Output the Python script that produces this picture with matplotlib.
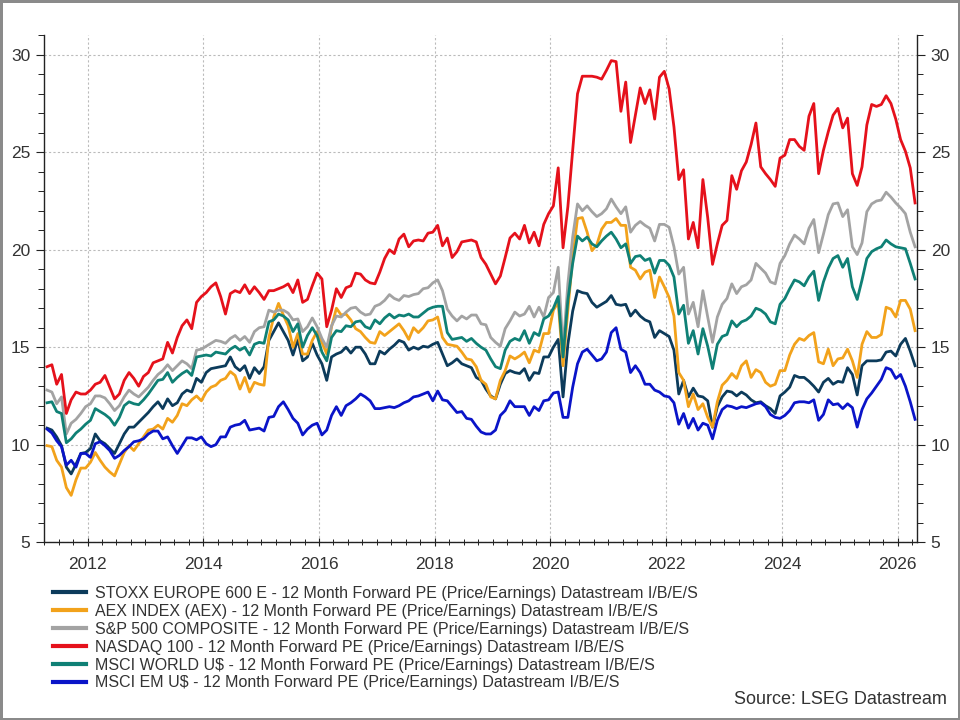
import numpy as np
import matplotlib
matplotlib.use("Agg")
import matplotlib.pyplot as plt
from matplotlib.ticker import MultipleLocator, FixedLocator

plt.rcParams['font.family'] = ['Liberation Sans Narrow', 'Liberation Sans', 'DejaVu Sans']

# monthly observations, Apr 2011 .. Apr 2026
start_year = 2011.30
n_points = 181

stoxx600 = [
    10.85, 10.75, 10.4, 9.95, 8.85, 8.5, 9.0, 9.55, 9.6, 9.8, 10.55, 10.2, 10.05, 9.8, 9.55, 10.05, 10.55, 10.9, 10.9, 11.15,
    11.4, 11.65, 11.95, 12.2, 11.85, 12.35, 12.0, 12.15, 12.6, 12.8, 12.7, 13.4, 13.2, 13.7, 13.9, 13.95, 14.0,
    14.05, 14.5, 14.0, 13.8, 14.05, 13.4, 13.95, 13.65, 14.0, 15.35, 15.8, 16.25, 15.8, 15.35, 14.6, 15.4, 14.3, 14.5,
    15.2, 14.6, 14.15, 13.3, 14.5, 14.65, 14.75, 15.0, 14.7, 15.0, 15.0, 14.65, 14.15, 14.15, 14.8, 14.65, 14.9, 15.1,
    15.35, 15.25, 14.85, 15.0, 14.9, 15.05, 15.0, 15.15, 15.25, 14.65, 14.05, 14.2, 14.4, 14.15, 14.05, 13.95, 13.45,
    13.3, 12.85, 12.5, 12.35, 13.1, 13.65, 13.8, 13.7, 13.65, 13.9, 13.3, 13.7, 13.65, 14.5, 14.5, 15.0, 15.4,
    12.45, 15.15, 16.85, 17.9, 17.8, 17.75, 17.3, 17.05, 17.2, 17.35, 17.65, 17.2, 17.15, 17.2, 16.6, 16.9, 16.6, 16.4,
    16.3, 15.5, 15.85, 15.7, 15.55, 14.85, 12.6, 13.3, 12.45, 12.9, 12.5, 12.45, 12.25, 10.9, 11.95, 12.45, 12.75, 12.7,
    12.5, 12.7, 12.55,
    12.3, 12.15, 12.2, 12.0, 11.85, 11.6, 12.5, 12.7, 12.95, 13.55, 13.45, 13.45, 13.25, 13.0, 12.7, 13.2, 13.4, 13.1,
    13.25, 13.2, 13.95, 13.6, 12.55, 14.05, 14.3, 14.3, 14.3, 14.35, 14.75, 14.8, 14.55, 15.15, 15.45, 14.8, 14.05,
]

aex = [
    9.95, 9.9, 9.2, 8.85, 7.8, 7.4, 8.2, 8.8, 8.8, 9.1, 9.6, 9.2, 8.85, 8.6, 8.4, 9.0, 9.6, 9.95, 9.7, 10.05,
    10.4, 10.75, 10.8, 11.0, 10.8, 11.35, 11.15, 11.5, 12.1, 12.0, 12.3, 12.5, 12.25, 12.7, 12.95, 13.05, 13.3,
    13.4, 13.75, 13.55, 12.85, 13.45, 12.7, 13.2, 13.1, 13.05, 15.5, 16.55, 17.25, 16.65, 16.1, 15.0, 15.7, 14.65, 14.65,
    15.35, 15.8, 15.25, 14.65, 16.05, 17.0, 16.65, 16.7, 16.4, 15.95, 15.8, 15.5, 15.25, 15.2, 15.8, 15.6, 15.8, 16.0,
    16.2, 15.85, 15.4, 16.0, 15.75, 16.0, 16.35, 16.4, 16.55, 15.5, 15.15, 15.1, 15.05, 14.75, 14.4, 14.35, 14.0,
    13.3, 13.1, 12.45, 12.35, 13.3, 13.8, 14.55, 14.4, 14.55, 14.75, 14.2, 14.85, 14.75, 15.7, 15.7, 16.9, 17.3,
    14.05, 16.9, 19.6, 21.6, 21.65, 20.9, 19.95, 20.25, 21.05, 21.4, 21.4, 21.6, 21.25, 21.25, 19.1, 18.95, 18.5, 18.85,
    18.95, 17.55, 18.6, 18.1, 17.55, 16.6, 13.7, 13.3, 11.95, 12.6, 11.8, 12.1, 11.4, 10.9, 12.2, 13.05, 13.3, 13.65,
    13.4, 14.05, 14.3,
    13.45, 13.85, 13.7, 13.2, 13.0, 13.1, 13.8, 13.8, 14.6, 15.15, 15.45, 15.35, 15.6, 15.75, 14.25, 14.15, 14.9, 14.05,
    14.4, 14.45, 14.9, 14.3, 13.45, 15.15, 15.8, 15.5, 15.5, 15.65, 17.05, 16.95, 16.55, 17.4, 17.4, 16.95, 15.85,
]

sp500 = [
    12.8, 12.7, 12.1, 12.45, 10.55, 11.1, 11.3, 11.6, 11.95, 12.1, 12.5, 12.5, 12.4, 12.1, 11.75, 12.0, 12.45, 12.8, 12.6, 12.45,
    12.7, 12.95, 13.3, 13.6, 13.8, 14.1, 13.8, 14.05, 14.3, 14.15, 13.9, 14.85, 14.9, 15.05, 15.2, 15.35, 15.3,
    15.2, 15.45, 15.6, 15.35, 15.55, 15.25, 15.8, 16.0, 16.05, 16.9, 16.8, 16.9, 16.9, 16.75, 16.4, 16.45, 15.8, 16.05,
    16.5, 16.05, 15.45, 15.0, 16.1, 16.6, 16.55, 16.8, 17.0, 17.05, 16.8, 16.65, 16.7, 17.1, 17.2, 17.4, 17.7, 17.5,
    17.4, 17.65, 17.6, 17.7, 17.75, 18.0, 18.05, 18.3, 18.45, 17.9, 16.95, 16.6, 16.35, 16.6, 16.45, 16.65, 16.65,
    16.2, 16.15, 15.5, 15.25, 15.05, 15.95, 16.35, 16.8, 16.6, 16.7, 17.1, 16.55, 17.05, 16.55, 17.55, 17.8, 19.1,
    14.9, 18.25, 20.65, 22.35, 22.0, 22.25, 21.95, 21.7, 21.85, 22.1, 22.6, 22.2, 21.85, 22.2, 20.9, 21.25, 21.45, 21.25,
    21.1, 20.45, 21.3, 21.3, 21.15, 20.15, 18.75, 19.1, 16.7, 17.3, 16.05, 17.9, 16.55, 15.25, 16.55, 17.2, 17.5, 18.25,
    17.75, 18.1, 18.2,
    18.45, 19.3, 19.05, 18.8, 18.35, 18.25, 19.3, 19.7, 20.3, 20.75, 20.55, 20.3, 21.1, 21.55, 19.85, 20.8, 21.8, 22.35,
    22.4, 21.7, 22.05, 20.15, 19.75, 20.35, 21.95, 22.35, 22.5, 22.55, 22.95, 22.7, 22.4, 22.15, 21.85, 20.9, 20.15,
]

nasdaq100 = [
    14.0, 14.1, 13.1, 13.6, 11.6, 12.3, 12.7, 12.6, 12.6, 12.8, 13.1, 13.2, 13.55, 12.95, 12.35, 12.6, 13.3, 13.7, 13.4, 13.0,
    13.5, 13.7, 14.2, 14.3, 14.4, 15.25, 14.7, 15.5, 16.1, 16.4, 15.95, 17.3, 17.6, 17.8, 18.1, 18.3, 17.6,
    16.7, 17.75, 17.9, 17.8, 18.2, 17.75, 18.1, 17.8, 17.45, 17.9, 17.9, 18.0, 18.1, 18.25, 17.8, 18.45, 17.3, 17.45,
    18.15, 18.8, 18.5, 16.05, 16.9, 18.0, 17.55, 18.05, 18.15, 18.8, 18.75, 18.45, 18.3, 18.25, 18.85, 19.55, 20.0, 19.8,
    20.55, 20.8, 20.15, 20.45, 20.5, 20.45, 20.85, 20.9, 21.25, 20.2, 20.6, 19.6, 19.9, 20.4, 20.45, 20.5, 20.4,
    19.6, 19.25, 18.75, 18.25, 18.65, 19.6, 20.6, 20.85, 20.55, 21.25, 20.35, 20.9, 20.2, 21.3, 21.85, 22.25, 24.2,
    20.1, 22.2, 25.1, 28.0, 28.9, 28.9, 28.9, 28.85, 28.75, 29.2, 29.7, 29.65, 27.1, 28.6, 25.5, 26.9, 28.3, 27.5,
    28.2, 26.7, 28.85, 29.15, 28.25, 26.3, 23.6, 24.1, 20.55, 21.4, 20.1, 23.6, 21.65, 19.25, 20.3, 21.25, 21.5, 23.8,
    23.1, 24.05, 24.5,
    25.4, 26.5, 24.25, 23.9, 23.6, 23.25, 24.7, 24.85, 25.65, 25.65, 25.3, 25.1, 26.85, 27.5, 23.9, 25.1, 26.05, 26.9,
    27.25, 26.25, 26.75, 23.9, 23.3, 24.25, 26.4, 27.45, 27.35, 27.45, 27.9, 27.5, 26.7, 25.65, 25.05, 24.2, 22.4,
]

msci_world = [
    12.15, 12.2, 11.7, 11.6, 10.1, 10.3, 10.6, 10.8, 11.05, 11.25, 11.85, 11.7, 11.55, 11.35, 11.0, 11.4, 12.0, 12.2, 12.1, 12.05,
    12.3, 12.6, 12.95, 13.3, 13.35, 13.7, 13.2, 13.45, 13.65, 13.8, 13.55, 14.5, 14.55, 14.6, 14.55, 14.75, 14.7,
    14.65, 14.9, 15.05, 14.85, 15.0, 14.6, 15.15, 15.25, 15.2, 16.3, 16.4, 16.7, 16.6, 16.4, 15.8, 16.2, 15.0, 15.6,
    16.0, 15.6, 14.75, 14.3, 15.5, 15.85, 15.8, 16.1, 16.05, 16.3, 16.35, 16.05, 15.95, 16.4, 16.2, 16.5, 16.7, 16.5,
    16.65, 16.6, 16.7, 16.55, 16.55, 16.75, 16.95, 17.05, 17.1, 17.1, 15.75, 15.4, 15.45, 15.5, 15.3, 15.45, 15.2,
    15.0, 14.85, 14.4, 14.0, 13.9, 14.85, 15.3, 15.45, 15.35, 15.85, 15.2, 15.75, 15.6, 16.45, 16.6, 17.0, 17.6,
    14.5, 17.4, 19.3, 20.7, 20.45, 20.65, 20.3, 20.15, 20.45, 20.7, 20.9, 20.55, 20.1, 20.3, 19.3, 19.65, 19.7, 19.45,
    19.55, 18.8, 19.45, 19.45, 19.2, 18.6, 16.7, 17.15, 15.2, 15.85, 14.65, 15.95, 15.05, 13.9, 15.15, 15.55, 15.65, 16.35,
    16.05, 16.3, 16.4,
    16.6, 17.0, 16.9, 16.7, 16.3, 16.2, 17.2, 17.5, 18.0, 18.45, 18.35, 18.15, 18.6, 18.9, 17.4, 18.35, 19.05, 19.55,
    19.7, 19.1, 19.55, 18.1, 17.45, 18.45, 19.55, 19.9, 20.05, 20.15, 20.5, 20.3, 20.15, 20.1, 20.05, 19.3, 18.5,
]

msci_em = [
    10.8, 10.6, 10.2, 9.9, 8.95, 9.2, 8.85, 9.55, 9.55, 9.35, 10.05, 10.15, 9.95, 9.7, 9.3, 9.45, 9.7, 9.9, 10.15, 10.2,
    10.3, 10.55, 10.7, 10.7, 10.3, 10.4, 9.95, 9.55, 9.95, 10.35, 10.35, 10.25, 10.4, 10.05, 9.9, 10.0, 10.4,
    10.4, 10.9, 11.0, 11.05, 11.25, 10.75, 10.8, 10.85, 10.7, 11.4, 11.45, 11.95, 12.2, 11.8, 11.35, 11.1, 10.5, 10.8,
    11.0, 11.1, 10.5, 10.75, 11.5, 11.95, 11.5, 12.0, 12.15, 12.35, 12.6, 12.45, 12.25, 11.85, 11.85, 11.9, 11.95, 11.9,
    12.0, 12.15, 12.25, 12.45, 12.5, 12.6, 12.7, 12.25, 12.75, 12.3, 12.25, 11.95, 11.65, 11.7, 11.35, 11.3, 10.95,
    10.65, 10.55, 10.55, 10.75, 11.5, 11.75, 12.25, 11.95, 11.95, 11.95, 11.5, 11.95, 11.75, 12.25, 12.3, 12.65, 12.7,
    11.4, 11.4, 12.95, 14.15, 14.75, 14.9, 14.6, 14.3, 14.4, 14.75, 15.75, 16.0, 14.9, 14.75, 13.7, 14.05, 13.7, 13.1,
    13.1, 12.8, 12.7, 12.5, 12.45, 12.15, 11.05, 11.6, 10.85, 11.35, 10.75, 11.1, 11.0, 10.3, 11.25, 11.8, 12.0, 11.95,
    11.85, 11.95, 11.9,
    12.0, 12.1, 12.15, 11.95, 11.55, 11.4, 11.35, 11.5, 11.75, 12.15, 12.2, 12.2, 12.15, 12.3, 11.25, 11.55, 12.3, 12.05,
    12.1, 11.85, 12.1, 11.9, 10.9, 11.8, 12.35, 12.65, 13.0, 13.35, 13.95, 13.85, 13.4, 13.6, 13.0, 12.2, 11.3,
]

series_labels = [
    "STOXX EUROPE 600 E - 12 Month Forward PE (Price/Earnings) Datastream I/B/E/S",
    "AEX INDEX (AEX) - 12 Month Forward PE (Price/Earnings) Datastream I/B/E/S",
    "S&P 500 COMPOSITE - 12 Month Forward PE (Price/Earnings) Datastream I/B/E/S",
    "NASDAQ 100 - 12 Month Forward PE (Price/Earnings) Datastream I/B/E/S",
    "MSCI WORLD U$ - 12 Month Forward PE (Price/Earnings) Datastream I/B/E/S",
    "MSCI EM U$ - 12 Month Forward PE (Price/Earnings) Datastream I/B/E/S",
]
series_colors = ["#0c3b5b", "#f2a21b", "#a3a3a3", "#e5111b", "#0f8075", "#0a14c8"]
series_data = [stoxx600, aex, sp500, nasdaq100, msci_world, msci_em]

year_ticks = [2012, 2014, 2016, 2018, 2020, 2022, 2024, 2026]
y_ticks = [5, 10, 15, 20, 25, 30]

t = start_year + np.arange(n_points) / 12.0

fig = plt.figure(figsize=(9.6, 7.2), dpi=100)
fig.patch.set_facecolor("white")
fig.patch.set_edgecolor("#8a8a8a")
fig.patch.set_linewidth(2.5)

ax = fig.add_axes([0.046, 0.247, 0.909, 0.704])
lines = []
for vals, col, lab in zip(series_data, series_colors, series_labels):
    v = np.asarray(vals, dtype=float)
    ln, = ax.plot(t[:len(v)], v, color=col, lw=2.0, label=lab, solid_joinstyle="round")
    lines.append(ln)

ax.set_xlim(2011.25, 2026.33)
ax.set_ylim(5, 31)
ax.spines["top"].set_visible(False)
for s in ["left", "right", "bottom"]:
    ax.spines[s].set_color("#222222")
    ax.spines[s].set_linewidth(1.0)

ax.xaxis.set_major_locator(FixedLocator(year_ticks))
ax.xaxis.set_minor_locator(MultipleLocator(0.25))
ax.yaxis.set_major_locator(FixedLocator(y_ticks))
ax.yaxis.set_minor_locator(MultipleLocator(1))
ax.tick_params(axis="both", which="major", labelsize=12.5, colors="#222222", labelcolor="#333333")
ax.tick_params(axis="y", which="major", direction="out", length=6, left=True, right=True,
               labelleft=True, labelright=True, pad=4)
ax.tick_params(axis="y", which="minor", direction="out", length=4, left=True, right=True)
ax.tick_params(axis="x", which="major", direction="inout", length=6, pad=8)
ax.tick_params(axis="x", which="minor", direction="inout", length=4)
ax.grid(True, which="major", color="#bbbbbb", linestyle=(0, (2, 2)), linewidth=0.8)

leg = fig.legend(handles=lines, loc="upper left", bbox_to_anchor=(0.055, 0.186),
                 frameon=False, fontsize=11.5, handlelength=2.1, handletextpad=0.55,
                 labelspacing=0.18, borderaxespad=0, borderpad=0)
for txt in leg.get_texts():
    txt.set_color("#333333")
for h in leg.legend_handles:
    h.set_linewidth(3.0)

fig.text(0.986, 0.016, "Source: LSEG Datastream", ha="right", va="bottom",
         fontsize=13, color="#333333")

fig.savefig("out.png", dpi=100, facecolor=fig.get_facecolor(), edgecolor=fig.get_edgecolor())
